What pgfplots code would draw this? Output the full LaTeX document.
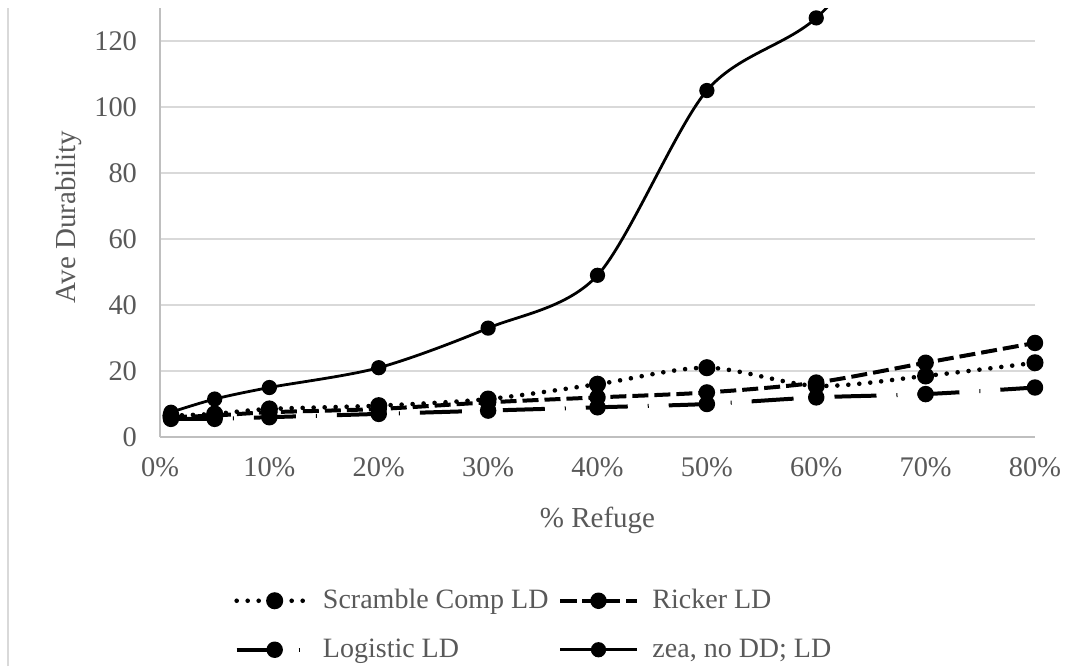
\documentclass[border=0pt]{standalone}
\usepackage{fontspec}
\setmainfont{Liberation Serif}
\usepackage{pgfplots}
\pgfplotsset{compat=1.18}
\definecolor{txt}{HTML}{595959}
\definecolor{grid}{HTML}{D9D9D9}
\definecolor{axl}{HTML}{BFBFBF}
\begin{document}
\begin{tikzpicture}
\path[use as bounding box] (0,0) rectangle (544.5pt,333pt);
\draw[color=grid, line width=0.8pt] (4pt,0) -- (4pt,329pt);
\begin{axis}[
  scale only axis, width=437.5pt, height=214.5pt,
  at={(80pt,114.5pt)}, anchor=south west,
  xmin=0, xmax=80, ymin=0, ymax=130,
  xtick={0,10,...,80}, ytick={0,20,...,120},
  xticklabel={\pgfmathprintnumber{\tick}\%},
  /pgf/number format/assume math mode=true,
  axis x line*=bottom, axis y line*=left,
  axis line style={color=axl, line width=0.8pt},
  ymajorgrids, grid style={color=grid, line width=0.8pt},
  major tick length=0pt, tick style={draw=none},
  tick label style={font=\fontsize{14.2}{16}\selectfont, text=txt},
  xticklabel style={yshift=-7pt},
  yticklabel style={xshift=-8pt},
  label style={font=\fontsize{14.5}{17}\selectfont, text=txt},
  xlabel={\% Refuge}, ylabel={Ave Durability},
  xlabel style={at={(axis description cs:0.5,0)}, anchor=center, yshift=-41.5pt},
  ylabel style={at={(axis description cs:-0.105,0.513)}, anchor=center},
  every axis plot/.append style={black, line width=1.5pt, smooth, mark=*, mark size=3.1pt, mark options={solid, fill=black}},
  legend columns=2,
  legend style={at={(axis description cs:0.0777,-0.336)}, anchor=north west, draw=none, fill=none,
    font=\fontsize{14}{16}\selectfont, text=txt, row sep=9.5pt,
    /tikz/column 1/.style={column sep=2pt},
    /tikz/column 2/.style={column sep=3pt},
    /tikz/column 3/.style={column sep=5pt}},
  legend cell align=left,
  legend image code/.code={\draw[mark repeat=2,mark phase=2,#1] plot coordinates {(0pt,0pt) (19pt,0pt) (38pt,0pt)};},
]
\addplot[line cap=round, dash pattern=on 0pt off 5.5pt, line width=2.3pt] coordinates {
(1,6.5) (5,7) (10,8.5) (20,9.5) (30,11.5) (40,16) (50,21) (60,15.5) (70,18.5) (80,22.5)};
\addlegendentry{Scramble Comp LD}
\addplot[dash pattern=on 8pt off 3pt, line width=2pt] coordinates {
(1,6) (5,6.5) (10,7.5) (20,8.5) (30,10.5) (40,12) (50,13.5) (60,16.5) (70,22.5) (80,28.5)};
\addlegendentry{Ricker LD}
\addplot[dash pattern=on 21pt off 10pt on 0.5pt off 10pt, line width=2pt] coordinates {
(1,5.5) (5,5.5) (10,6) (20,7) (30,8) (40,9) (50,10) (60,12) (70,13) (80,15)};
\addlegendentry{Logistic LD}
\addplot[line width=1.4pt] coordinates {
(1,7.5) (5,11.5) (10,15) (20,21) (30,33) (40,49) (50,105) (60,127) (70,165) (80,200)};
\addlegendentry{zea, no DD; LD}
\end{axis}
\end{tikzpicture}
\end{document}
